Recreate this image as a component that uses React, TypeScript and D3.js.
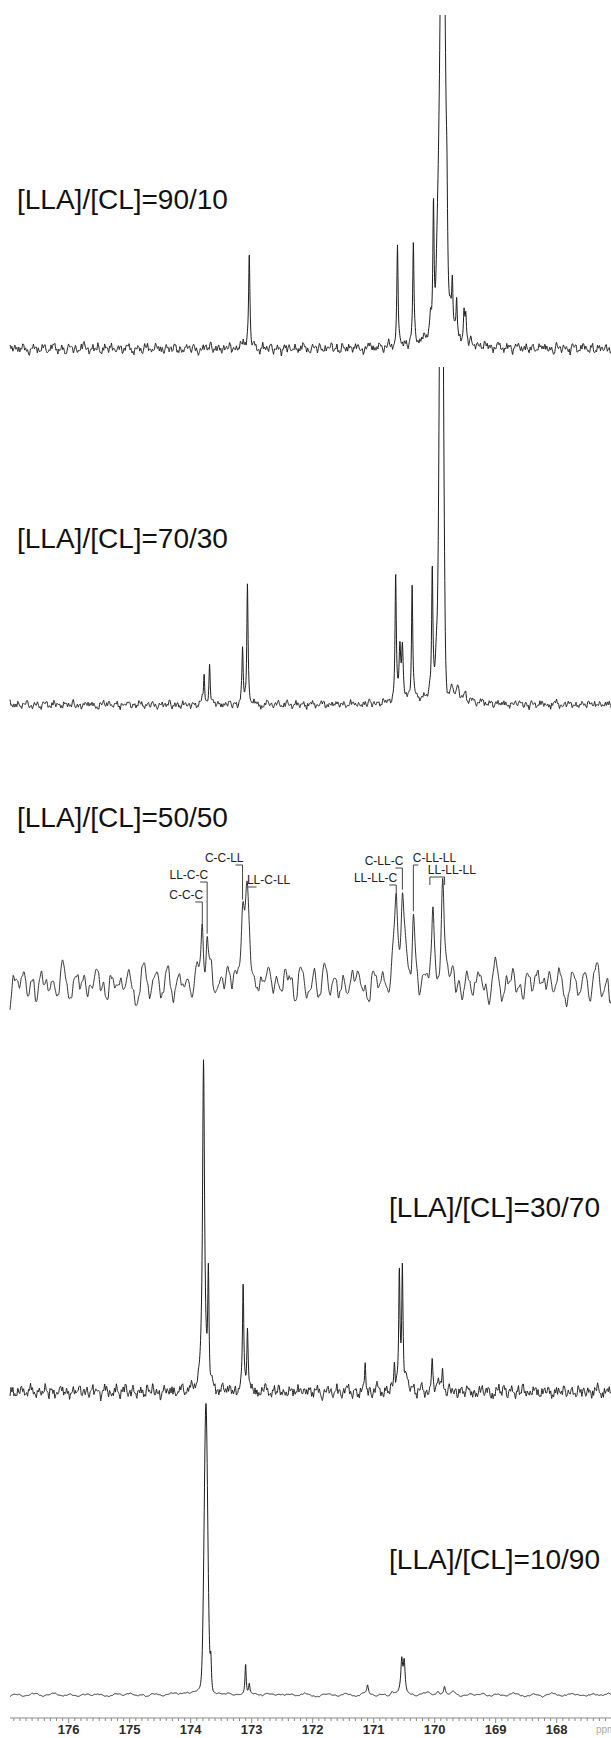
import React from 'react';
import * as d3 from 'd3';

const W = 611;
const H = 1738;

// chemical shift axis
const axisLabels = [176, 175, 174, 173, 172, 171, 170, 169, 168];
const axisUnit = 'ppm';

const ratioLabels = [
  '[LLA]/[CL]=90/10',
  '[LLA]/[CL]=70/30',
  '[LLA]/[CL]=50/50',
  '[LLA]/[CL]=30/70',
  '[LLA]/[CL]=10/90',
];

// carbonyl peaks: [ppm, height, half width, shape]
// shape 'g' = gaussian, otherwise lorentzian
type Peak = [number, number, number, string?];

const peaks9010: Peak[] = [
  [173.04, 92, 0.012],
  [173.1, 6, 0.05],
  [170.61, 100, 0.012],
  [170.35, 100, 0.012],
  [170.07, 18, 0.02],
  [170.02, 125, 0.012],
  [169.96, 45, 0.03],
  [169.87, 480, 0.0447, 'g'],
  [169.8, 45, 0.01],
  [169.74, 25, 0.03],
  [169.71, 45, 0.012],
  [169.64, 42, 0.012],
  [169.52, 32, 0.012],
  [169.49, 26, 0.012],
  [169.9, 12, 0.35],
];

const peaks7030: Peak[] = [
  [173.78, 30, 0.012],
  [173.69, 40, 0.012],
  [173.15, 55, 0.012],
  [173.07, 118, 0.012],
  [170.64, 124, 0.012],
  [170.57, 50, 0.016],
  [170.53, 52, 0.016],
  [170.37, 118, 0.012],
  [170.04, 125, 0.012],
  [169.97, 45, 0.03],
  [169.89, 640, 0.029, 'g'],
  [169.835, 10, 0.008],
  [169.72, 15, 0.02],
  [169.62, 12, 0.02],
  [169.5, 8, 0.02],
  [169.9, 10, 0.35],
];

const peaks5050: Peak[] = [
  [173.81, 62, 0.025],
  [173.73, 36, 0.02],
  [173.15, 75, 0.035],
  [173.07, 77, 0.035],
  [170.63, 80, 0.03],
  [170.53, 84, 0.03],
  [170.35, 68, 0.025],
  [170.03, 66, 0.025],
  [169.87, 95, 0.03],
];

const peaks3070: Peak[] = [
  [173.79, 335, 0.02],
  [173.71, 105, 0.012],
  [173.14, 112, 0.012],
  [173.07, 62, 0.012],
  [171.14, 24, 0.012],
  [170.66, 32, 0.012],
  [170.58, 115, 0.012],
  [170.53, 125, 0.012],
  [170.45, 12, 0.03],
  [170.04, 30, 0.012],
  [169.96, 10, 0.03],
  [169.87, 20, 0.012],
];

const peaks1090: Peak[] = [
  [174.0, 3, 0.15],
  [173.75, 250, 0.03, 'g'],
  [173.75, 40, 0.03],
  [173.67, 32, 0.012],
  [173.1, 32, 0.012],
  [173.04, 10, 0.012],
  [171.1, 8, 0.015],
  [170.7, 4, 0.02],
  [170.54, 32, 0.018],
  [170.5, 31, 0.018],
  [169.95, 4, 0.03],
  [169.84, 8, 0.015],
  [169.7, 3, 0.03],
];

const seriesPeaks = [peaks9010, peaks7030, peaks5050, peaks3070, peaks1090];

// baseline noise, read as rough steps (-9..9)
const noiseTrace = [
  3, -2, 5, -4, 1, 6, -3, -7, 2, 4, -1, -5, 7, 0, -6, 3, 8, -2, -4, 5, -8, 1, 6, -3, 2, -6, 4, 9, -1, -5,
  3, -2, 6, -7, 0, 4, -3, 7, -4, -1, 5, -6, 2, 8, -3, -5, 1, 4, -8, 3, 6, -2, -4, 7, -1, 2, -6, 5, 0, -3,
  8, -5, 1, -7, 4, 3, -2, 6, -4, -8, 2, 5, -1, 7, -3, 0, 4, -6, 3, -2, 9, -5, 1, -4, 6, 2, -7, 3, -1, 5,
  -3, -6, 4, 1, -2, 7, -5, 0, 3, -8, 6, -1, 2, -4, 5, -7, 3, 8, -2, -5, 1, 4, -3, 6, -6, 2, -1, 7, -4, 3,
  -8, 5, 0, -2, 4, -5, 6, 1, -3, -7, 2, 8, -1, -4, 3, 5, -6, 0, 7, -2, -5, 4, 1, -3, 6, -8, 2, 5, -1, -4,
  3, 7, -6, 0, 2, -3, 8, -5, 4, -1, -7, 6, 3, -2, 1, -6, 5, -4, 9, -3, 0, 2, -5, 7, -1, 4, -8, 3, 6, -2,
  -4, 1, 5, -7, 2, 8, -3, -1, 4, -6, 3, 0, -5, 7, -2, 6, -4, 1, -8, 5, 2, -3, 4, -1, -6, 7, 3, -5, 0, 8,
  -2, -4, 6, -7, 1, 3, -3, 5, -2, -6, 4, 2, -1, 7, -5, 3, -8, 6, 0, -4, 2, 5, -3, 1, -7, 4, 8, -2, -5, 3,
  -1, 6, -4, 2, -6, 5, 1, -3, 7, -2,
];

// triad assignments drawn on the 50/50 trace
const triadLabels = ['C-C-LL', 'LL-C-C', 'C-C-C', 'LL-C-LL', 'C-LL-C', 'LL-LL-C', 'C-LL-LL', 'LL-LL-LL'];
const triadPpm = [173.15, 173.73, 173.81, 173.07, 170.53, 170.63, 170.35, 170.03];
const triadPpmEnd = [0, 0, 0, 0, 0, 0, 0, 169.87];
const triadLevel = [123, 106, 86, 101, 120, 103, 123, 111];
const triadSide = ['end', 'end', 'end', 'start', 'end', 'end', 'start', 'span'];

// page layout of the stacked traces; noise layers = [step ppm, amplitude px, offset, smooth]
type Layer = [number, number, number, boolean];
const panels: {
  base: number;
  clipTop: number;
  layers: Layer[];
  tx: number;
  ty: number;
  anchor: string;
}[] = [
  { base: 349, clipTop: 15, layers: [[0.045, 5.5, 0, false], [0.016, 3.8, 71, false]], tx: 17, ty: 209, anchor: 'start' },
  { base: 705, clipTop: 367, layers: [[0.045, 4.3, 37, false], [0.016, 3, 113, false]], tx: 17, ty: 548, anchor: 'start' },
  { base: 985, clipTop: 0, layers: [[0.055, 22, 91, true], [0.026, 6, 17, false]], tx: 17, ty: 827, anchor: 'start' },
  { base: 1392, clipTop: 0, layers: [[0.045, 7, 143, false], [0.016, 5, 59, false]], tx: 600, ty: 1217, anchor: 'end' },
  { base: 1695, clipTop: 0, layers: [[0.09, 2, 201, true], [0.03, 0.8, 7, false]], tx: 600, ty: 1569, anchor: 'end' },
];

const axisY = 1718;
const font = "'Liberation Sans', Arial, Helvetica, sans-serif";

const x = d3.scaleLinear().domain([177, 167]).range([7.7, 617.7]);
const startPpm = x.invert(10);
const endPpm = 166.95;

const shape = (p: Peak, v: number) => {
  const [c, h, w, kind] = p;
  const d = v - c;
  if (kind === 'g') return h * Math.exp(-(d * d) / (2 * w * w));
  return (h * w * w) / (w * w + d * d);
};

const noiseLayer = ([step, amp, offset, smooth]: Layer) => {
  const knots = d3.range(startPpm, endPpm - step, -step);
  const vals = knots.map((_, k) => (noiseTrace[(k + offset) % noiseTrace.length] * amp) / 9);
  if (smooth) {
    const f = d3.interpolateBasis(vals);
    const t = d3.scaleLinear().domain([startPpm, knots[knots.length - 1]]).range([0, 1]).clamp(true);
    return (p: number) => f(t(p)) * 1.6;
  }
  const s = d3.scaleLinear().domain(knots).range(vals).clamp(true);
  return (p: number) => s(p);
};

const buildTrace = (peaks: Peak[], panel: (typeof panels)[number]) => {
  const layers = panel.layers.map(noiseLayer);
  const grid = d3.range(startPpm, endPpm, -0.004);
  return grid.map(
    p => [p, d3.sum(layers, f => f(p)) + d3.sum(peaks, pk => shape(pk, p))] as [number, number]
  );
};

const App = () => {
  const traces = panels.map((pn, i) => buildTrace(seriesPeaks[i], pn));
  const ticks = x.ticks(100).filter(t => x(t) >= 9.5 && x(t) <= W);

  return (
    <svg
      width={W}
      height={H}
      viewBox={`0 0 ${W} ${H}`}
      style={{ position: 'absolute', left: 0, top: 0, background: '#fff' }}
    >
      <defs>
        {panels.map((pn, i) => (
          <clipPath id={`clip${i}`} key={i}>
            <rect x={0} y={pn.clipTop} width={W} height={H - pn.clipTop} />
          </clipPath>
        ))}
      </defs>

      {panels.map((pn, i) => {
        const y = d3.scaleLinear().domain([0, 100]).range([pn.base, pn.base - 100]);
        const line = d3
          .line<[number, number]>()
          .x(d => x(d[0]))
          .y(d => y(d[1]));
        return (
          <g key={i}>
            <path
              d={line(traces[i]) || ''}
              fill="none"
              stroke="#1e1e1e"
              strokeWidth={i === 2 ? 0.9 : 1}
              strokeLinejoin="round"
              clipPath={`url(#clip${i})`}
            />
            <text
              x={pn.tx}
              y={pn.ty}
              textAnchor={pn.anchor as any}
              fontFamily={font}
              fontSize={28}
              fill="#111"
            >
              {ratioLabels[i]}
            </text>
          </g>
        );
      })}

      {/* triad labels on 50/50 */}
      {(() => {
        const pn = panels[2];
        const y = d3.scaleLinear().domain([0, 100]).range([pn.base, pn.base - 100]);
        const at = (p: number) => {
          const tr = traces[2];
          const idx = d3.bisector((d: [number, number]) => -d[0]).left(tr, -p);
          return tr[Math.min(idx, tr.length - 1)][1];
        };
        return triadLabels.map((lab, i) => {
          const xp = x(triadPpm[i]);
          const ty = y(triadLevel[i]);
          const by = ty + 3;
          const tip = Math.max(by, y(at(triadPpm[i])) - 3);
          const side = triadSide[i];
          let text;
          let path;
          if (side === 'end') {
            text = (
              <text x={xp + 1} y={ty} textAnchor="end">
                {lab}
              </text>
            );
            path = `M${xp - 7},${by}H${xp}V${tip}`;
          } else if (side === 'start') {
            text = (
              <text x={xp - 0.5} y={ty} textAnchor="start">
                {lab}
              </text>
            );
            path = `M${xp + (i === 6 ? 5 : 9)},${by}H${xp}V${tip}`;
          } else {
            const xe = x(triadPpmEnd[i]);
            text = (
              <text x={xp - 5} y={ty} textAnchor="start">
                {lab}
              </text>
            );
            path = `M${xp - 3},${by + 8}V${by}H${xe + 2}V${by + 8}`;
          }
          return (
            <g key={lab} fontFamily={font} fontSize={12} fill="#222">
              {text}
              <path d={path} fill="none" stroke="#444" strokeWidth={1} />
            </g>
          );
        });
      })()}

      {/* ppm axis */}
      <g>
        <line x1={10} x2={W} y1={axisY} y2={axisY} stroke="#8a8a8a" strokeWidth={1} />
        {ticks.map(t => {
          const major = Math.abs(t - Math.round(t)) < 1e-6;
          return (
            <line
              key={t}
              x1={x(t)}
              x2={x(t)}
              y1={axisY}
              y2={axisY + (major ? 5 : 3)}
              stroke="#8a8a8a"
              strokeWidth={1}
            />
          );
        })}
        {axisLabels.map(t => (
          <text
            key={t}
            x={x(t)}
            y={1734}
            textAnchor="middle"
            fontFamily={font}
            fontWeight="bold"
            fontSize={13}
            fill="#2a2a2a"
          >
            {t}
          </text>
        ))}
        <text x={596} y={1733} fontFamily={font} fontSize={10} fill="#aaa">
          {axisUnit}
        </text>
      </g>
    </svg>
  );
};

export default App;
